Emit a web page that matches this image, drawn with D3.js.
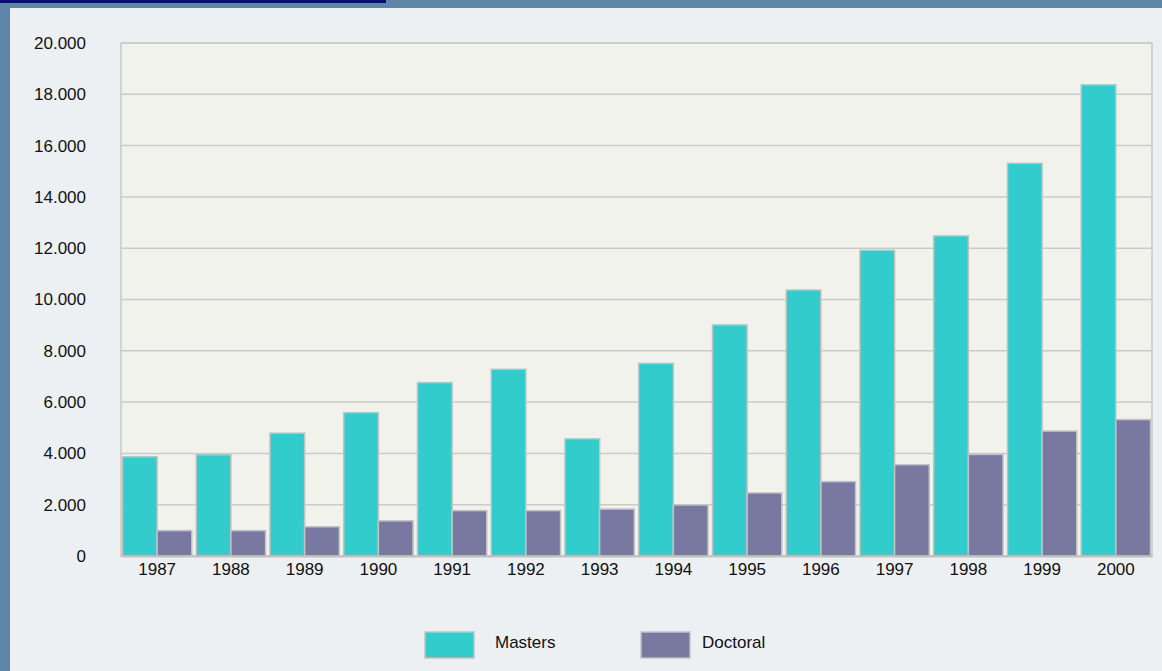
<!DOCTYPE html>
<html>
<head>
<meta charset="utf-8">
<script src="https://cdn.jsdelivr.net/npm/d3@7/dist/d3.min.js"></script>
<style>
  html, body { margin: 0; padding: 0; background: #5f86a8; }
  svg { display: block; font-family: "Liberation Sans", Arial, sans-serif; }
</style>
</head>
<body>
<div id="chart"></div>
<script>
// data
var years = ['1987', '1988', '1989', '1990', '1991', '1992', '1993', '1994', '1995', '1996', '1997', '1998', '1999', '2000'];
var masters = [3870, 3950, 4790, 5590, 6760, 7280, 4570, 7510, 9010, 10370, 11920, 12480, 15310, 18370];
var doctoral = [990, 990, 1140, 1370, 1770, 1770, 1830, 1990, 2460, 2900, 3560, 3960, 4870, 5320];
var series = ['Masters', 'Doctoral'];
var yTicks = [0, 2000, 4000, 6000, 8000, 10000, 12000, 14000, 16000, 18000, 20000];

var W = 1162, H = 671;
var colors = { Masters: '#33cccc', Doctoral: '#7878a0' };

var svg = d3.select('#chart').append('svg')
  .attr('width', W)
  .attr('height', H);

// frame
svg.append('rect').attr('width', W).attr('height', H).attr('fill', '#5f86a8');
svg.append('rect').attr('x', 0).attr('y', 0).attr('width', 386).attr('height', 3).attr('fill', '#0b0b78');
svg.append('rect').attr('x', 10).attr('y', 8).attr('width', W - 10).attr('height', H - 8).attr('fill', '#edf0f3');

// plot area (window.top is taken, so plain names are avoided)
var pLeft = 121, pRight = 1152, pTop = 43, pBottom = 556;

var x0 = d3.scaleBand().domain(years).range([pLeft, pRight]).paddingInner(0.06).paddingOuter(0.02);
var x1 = d3.scaleBand().domain(series).range([0, x0.bandwidth()]);
var y = d3.scaleLinear().domain([0, 20000]).range([pBottom, pTop]);

// plot background
svg.append('rect')
  .attr('x', pLeft).attr('y', pTop)
  .attr('width', pRight - pLeft).attr('height', pBottom - pTop)
  .attr('fill', '#f2f2ed')
  .attr('stroke', '#c8c8c8')
  .attr('stroke-width', 1.5);

// grid lines
svg.append('g')
  .selectAll('line')
  .data(yTicks.slice(1))
  .enter()
  .append('line')
  .attr('x1', pLeft).attr('x2', pRight)
  .attr('y1', function (d) { return y(d); })
  .attr('y2', function (d) { return y(d); })
  .attr('stroke', '#cacaca')
  .attr('stroke-width', 1.5);

// y axis
var yAxis = svg.append('g')
  .attr('transform', 'translate(' + pLeft + ',0)')
  .call(d3.axisLeft(y)
    .tickValues(yTicks)
    .tickSize(0)
    .tickPadding(35)
    .tickFormat(function (d) { return d3.format(',')(d).replace(/,/g, '.'); }));
yAxis.select('.domain').remove();
yAxis.selectAll('text').attr('font-size', 17).attr('fill', '#111');

// bars
var rows = years.map(function (yr, i) {
  return { year: yr, values: [{ key: 'Masters', v: masters[i] }, { key: 'Doctoral', v: doctoral[i] }] };
});

var groups = svg.append('g')
  .selectAll('g')
  .data(rows)
  .enter()
  .append('g')
  .attr('transform', function (d) { return 'translate(' + x0(d.year) + ',0)'; });

groups.selectAll('rect')
  .data(function (d) { return d.values; })
  .enter()
  .append('rect')
  .attr('x', function (d) { return x1(d.key); })
  .attr('width', x1.bandwidth())
  .attr('y', function (d) { return y(d.v); })
  .attr('height', function (d) { return y(0) - y(d.v); })
  .attr('fill', function (d) { return colors[d.key]; })
  .attr('stroke', '#c2c2c2')
  .attr('stroke-width', 1.5);

// x axis
var xAxis = svg.append('g')
  .attr('transform', 'translate(0,' + pBottom + ')')
  .call(d3.axisBottom(x0).tickSize(0).tickPadding(7));
xAxis.select('.domain')
  .attr('stroke', '#c0c0c0')
  .attr('stroke-width', 2);
xAxis.selectAll('text').attr('font-size', 17).attr('fill', '#111');

// legend
var legend = svg.append('g')
  .selectAll('g')
  .data(series)
  .enter()
  .append('g')
  .attr('transform', function (d, i) { return 'translate(' + (425 + i * 216) + ',632)'; });

legend.append('rect')
  .attr('width', 49).attr('height', 26)
  .attr('fill', function (d) { return colors[d]; })
  .attr('stroke', '#c2c2c2')
  .attr('stroke-width', 1.5);

legend.append('text')
  .attr('x', function (d, i) { return i ? 61 : 70; })
  .attr('y', 16)
  .attr('font-size', 17)
  .attr('fill', '#111')
  .text(function (d) { return d; });
</script>
</body>
</html>
